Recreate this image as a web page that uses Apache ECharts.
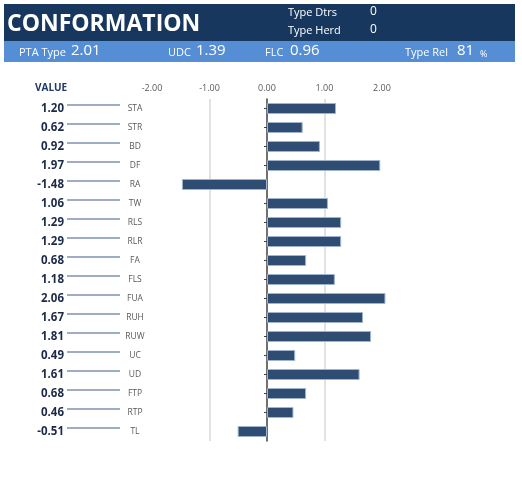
<!DOCTYPE html>
<html>
<head>
<meta charset="utf-8">
<script src="https://cdn.jsdelivr.net/npm/echarts@6/dist/echarts.min.js"></script>
<style>
  html, body { margin: 0; padding: 0; background: #fff; }
  #chart { width: 522px; height: 477px; }
</style>
</head>
<body>
<div id="chart"></div>
<script>
var traits = ['STA', 'STR', 'BD', 'DF', 'RA', 'TW', 'RLS', 'RLR', 'FA', 'FLS', 'FUA', 'RUH', 'RUW', 'UC', 'UD', 'FTP', 'RTP', 'TL'];
var values = [1.20, 0.62, 0.92, 1.97, -1.48, 1.06, 1.29, 1.29, 0.68, 1.18, 2.06, 1.67, 1.81, 0.49, 1.61, 0.68, 0.46, -0.51];
var axisTicks = [-2, -1, 0, 1, 2];

var headerStats = [
    { label: 'PTA Type', value: '2.01', lx: 19, vx: 71 },
    { label: 'UDC', value: '1.39', lx: 168, vx: 196 },
    { label: 'FLC', value: '0.96', lx: 265, vx: 290 },
    { label: 'Type Rel', value: '81', lx: 405, vx: 457 }
];
var herdStats = [
    { label: 'Type Dtrs', value: '0', y: 12 },
    { label: 'Type Herd', value: '0', y: 30 }
];

var font = 'Open Sans';
var navy = '#17375E';
var barColor = '#2F4C73';

var chart = echarts.init(document.getElementById('chart'));

// header bands and text
var graphics = [
    { type: 'rect', shape: { x: 4, y: 4, width: 511, height: 37 }, style: { fill: navy } },
    { type: 'rect', shape: { x: 4, y: 41, width: 511, height: 21 }, style: { fill: '#558ED5' } },
    { type: 'text', left: 7, top: 13, style: { text: 'CONFORMATION', fill: '#fff', font: 'bold 23px "' + font + '"' } },
    { type: 'text', left: 35, top: 83, style: { text: 'VALUE', fill: '#1F3864', font: 'bold 10px "' + font + '"' } },
    { type: 'text', left: 480, top: 50, style: { text: '%', fill: '#fff', font: '9px "' + font + '"' } }
];
herdStats.forEach(function(s) {
    graphics.push({ type: 'text', left: 288, top: s.y - 5, style: { text: s.label, fill: '#fff', font: '11px "' + font + '"' } });
    graphics.push({ type: 'text', left: 370, top: s.y - 6, style: { text: s.value, fill: '#fff', font: '12px "' + font + '"' } });
});
headerStats.forEach(function(s) {
    graphics.push({ type: 'text', left: s.lx, top: 47, style: { text: s.label, fill: '#fff', font: '11px "' + font + '"' } });
    graphics.push({ type: 'text', left: s.vx, top: 43, style: { text: s.value, fill: '#fff', font: '15px "' + font + '"' } });
});

var option = {
    animation: false,
    textStyle: { fontFamily: font },
    graphic: graphics,
    grid: [
        { left: 152, top: 99, width: 230, height: 342 },
        { left: 120, top: 95, width: 1, height: 342 }
    ],
    xAxis: [{
        type: 'value',
        gridIndex: 0,
        position: 'top',
        min: -2,
        max: 2,
        interval: 1,
        axisLine: { show: false },
        axisTick: { show: false },
        axisLabel: {
            color: '#595959',
            fontSize: 9,
            margin: 6,
            formatter: function(v) { return v.toFixed(2); }
        },
        splitLine: {
            show: true,
            lineStyle: { color: ['rgba(0,0,0,0)', '#D9D9D9'], width: 1.5 }
        }
    }, {
        type: 'value',
        gridIndex: 1,
        show: false
    }],
    yAxis: [{
        // category names
        type: 'category',
        gridIndex: 0,
        position: 'left',
        data: traits,
        inverse: true,
        axisLine: { show: false, onZero: false },
        axisTick: { show: false },
        axisLabel: { color: '#595959', fontSize: 8.5, align: 'center', margin: 17 }
    }, {
        // zero line with ticks
        type: 'category',
        gridIndex: 0,
        position: 'left',
        data: traits,
        inverse: true,
        axisLine: { show: true, onZero: true, lineStyle: { color: '#404040', width: 1.5 } },
        axisTick: { show: true, alignWithLabel: true, length: 3, lineStyle: { color: '#404040' } },
        axisLabel: { show: false }
    }, {
        // value column
        type: 'category',
        gridIndex: 0,
        position: 'left',
        data: values.map(function(v) { return v.toFixed(2); }),
        inverse: true,
        axisLine: { show: false, onZero: false },
        axisTick: { show: false },
        axisLabel: { color: '#1C2A48', fontSize: 11.5, fontWeight: 'bold', align: 'right', margin: 88 }
    }, {
        // leader lines next to values
        type: 'category',
        gridIndex: 1,
        position: 'left',
        data: traits,
        inverse: true,
        axisLine: { show: false },
        axisTick: { show: true, alignWithLabel: true, length: 53, lineStyle: { color: '#7F93B0', width: 1.5 } },
        axisLabel: { show: false }
    }],
    series: [{
        type: 'bar',
        xAxisIndex: 0,
        yAxisIndex: 0,
        data: values,
        barWidth: 11,
        clip: false,
        itemStyle: { color: barColor, borderColor: '#9FB3CD', borderWidth: 1 }
    }]
};

chart.setOption(option);
</script>
</body>
</html>
